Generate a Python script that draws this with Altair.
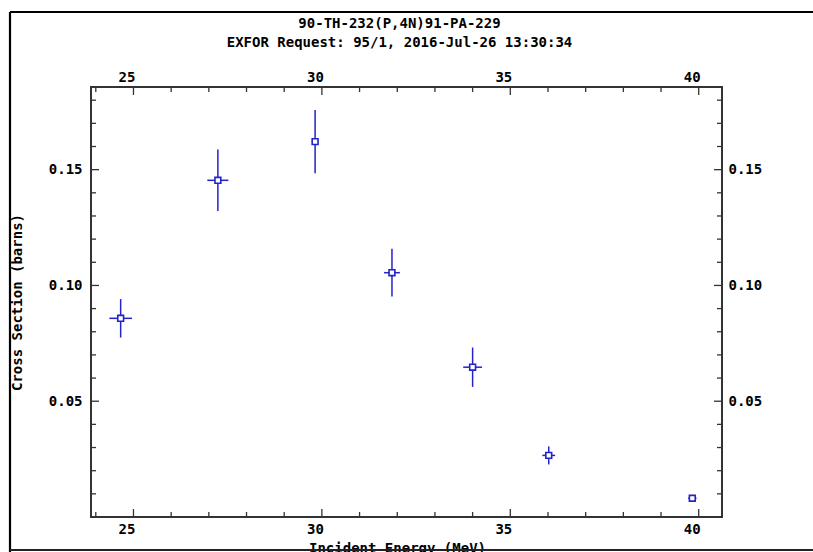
import altair as alt
import pandas as pd

# ---- data ----
energy = [24.66, 27.24, 29.82, 31.86, 34.00, 36.02, 39.83]
energy_err = [0.30, 0.28, 0.09, 0.21, 0.25, 0.17, 0.11]
xsec = [0.0858, 0.1454, 0.1621, 0.1055, 0.0647, 0.0266, 0.0081]
xsec_err = [0.0083, 0.0133, 0.0137, 0.0103, 0.0085, 0.0039, 0.0008]

x_major = [25, 30, 35, 40]
x_minor = [24, 26, 27, 28, 29, 31, 32, 33, 34, 36, 37, 38, 39]
y_major = [0.05, 0.10, 0.15]
y_minor = [0.01, 0.02, 0.03, 0.04, 0.06, 0.07, 0.08, 0.09,
           0.11, 0.12, 0.13, 0.14, 0.16, 0.17, 0.18]

title_lines = ["90-TH-232(P,4N)91-PA-229", "EXFOR Request: 95/1, 2016-Jul-26 13:30:34"]
x_title = "Incident Energy (MeV)"
y_title = "Cross Section (barns)"

# ---- layout / style ----
W, H = 631, 430
FONT = "DejaVu Sans Mono"
BLUE = "#2323c8"
AX = "#333333"

df = pd.DataFrame({"E": energy, "dE": energy_err, "S": xsec, "dS": xsec_err})
xs = alt.Scale(domain=[23.873, 40.618], nice=False, zero=False)
ys = alt.Scale(domain=[0, 0.1857], nice=False, zero=False)

lab = dict(labelFont=FONT, labelFontSize=14, labelFontWeight="bold", labelColor="black",
           ticks=False, domain=False, grid=False)

base = alt.Chart(df).transform_calculate(
    E_lo="datum.E - datum.dE", E_hi="datum.E + datum.dE",
    S_lo="datum.S - datum.dS", S_hi="datum.S + datum.dS")

vbar = base.mark_rule(color=BLUE, strokeWidth=1.5).encode(
    x=alt.X("E:Q", scale=xs, axis=None),
    y=alt.Y("S_lo:Q", scale=ys, axis=None),
    y2="S_hi:Q")
hbar = base.mark_rule(color=BLUE, strokeWidth=1.5).encode(
    x=alt.X("E_lo:Q", scale=xs, axis=None),
    x2="E_hi:Q",
    y=alt.Y("S:Q", scale=ys, axis=None))

pts_main = base.mark_point(shape="square", filled=True, fill="white", stroke=BLUE,
                           strokeWidth=1.6, size=34, opacity=1).encode(
    x=alt.X("E:Q", scale=xs, axis=alt.Axis(
        orient="bottom", values=x_major, labelPadding=5, labelOffset=-7,
        title=x_title, titleFont=FONT, titleFontSize=14, titleFontWeight="bold",
        titleColor="black", titleX=306, titleY=24, titleBaseline="top",
        titleAlign="center", **lab)),
    y=alt.Y("S:Q", scale=ys, axis=alt.Axis(
        orient="left", values=y_major, format=".2f", labelPadding=9,
        title=y_title, titleFont=FONT, titleFontSize=14, titleFontWeight="bold",
        titleColor="black", titleAngle=-90, titleX=-74, titleY=H / 2,
        titleAlign="center", titleBaseline="middle", **lab)))

pts_twin = base.mark_point(opacity=0, size=1).encode(
    x=alt.X("E:Q", scale=xs, axis=alt.Axis(
        orient="top", values=x_major, labelPadding=3, labelOffset=-7, title=None, **lab)),
    y=alt.Y("S:Q", scale=ys, axis=alt.Axis(
        orient="right", values=y_major, format=".2f", labelPadding=6, title=None, **lab)))


def xticks(vals, length):
    d = alt.Chart(pd.DataFrame({"v": vals}))
    bot = d.mark_rule(color=AX, strokeWidth=1.3).encode(
        x=alt.X("v:Q", scale=xs, axis=None), y=alt.value(H), y2=alt.value(H - length))
    top = d.mark_rule(color=AX, strokeWidth=1.3).encode(
        x=alt.X("v:Q", scale=xs, axis=None), y=alt.value(0), y2=alt.value(length))
    return [bot, top]


def yticks(vals, length):
    d = alt.Chart(pd.DataFrame({"v": vals}))
    left = d.mark_rule(color=AX, strokeWidth=1.3).encode(
        y=alt.Y("v:Q", scale=ys, axis=None), x=alt.value(0), x2=alt.value(length))
    right = d.mark_rule(color=AX, strokeWidth=1.3).encode(
        y=alt.Y("v:Q", scale=ys, axis=None), x=alt.value(W), x2=alt.value(W - length))
    return [left, right]


frame_d = alt.Chart(pd.DataFrame({"a": [0]}))
frame = [
    frame_d.mark_rule(color="black", strokeWidth=2.2).encode(
        x=alt.value(-81), y=alt.value(-75), y2=alt.value(H + 40)),
    frame_d.mark_rule(color="black", strokeWidth=2.2).encode(
        x=alt.value(-81), x2=alt.value(W + 120), y=alt.value(-75)),
    frame_d.mark_rule(color="#222222", strokeWidth=2).encode(
        x=alt.value(-81), x2=alt.value(W + 120), y=alt.value(H + 33)),
]

layers = (xticks(x_major, 8) + xticks(x_minor, 5) + yticks(y_major, 8) + yticks(y_minor, 5)
          + frame + [hbar, vbar, pts_main, pts_twin])

chart = alt.layer(*layers).resolve_scale(x="shared", y="shared").resolve_axis(
    x="independent", y="independent").properties(
    width=W, height=H,
    title=alt.TitleParams(text=title_lines, font=FONT, fontSize=14, fontWeight="bold",
                          color="black", anchor="middle", lineHeight=19, dx=-7,
                          offset=0, dy=39),
    autosize=alt.AutoSizeParams(type="none"),
    padding={"left": 91, "top": 87, "right": 91, "bottom": 35},
    background="white",
).configure_view(stroke=AX, strokeWidth=2)

chart.save("out.html", embed_options={"renderer": "svg", "actions": False})
